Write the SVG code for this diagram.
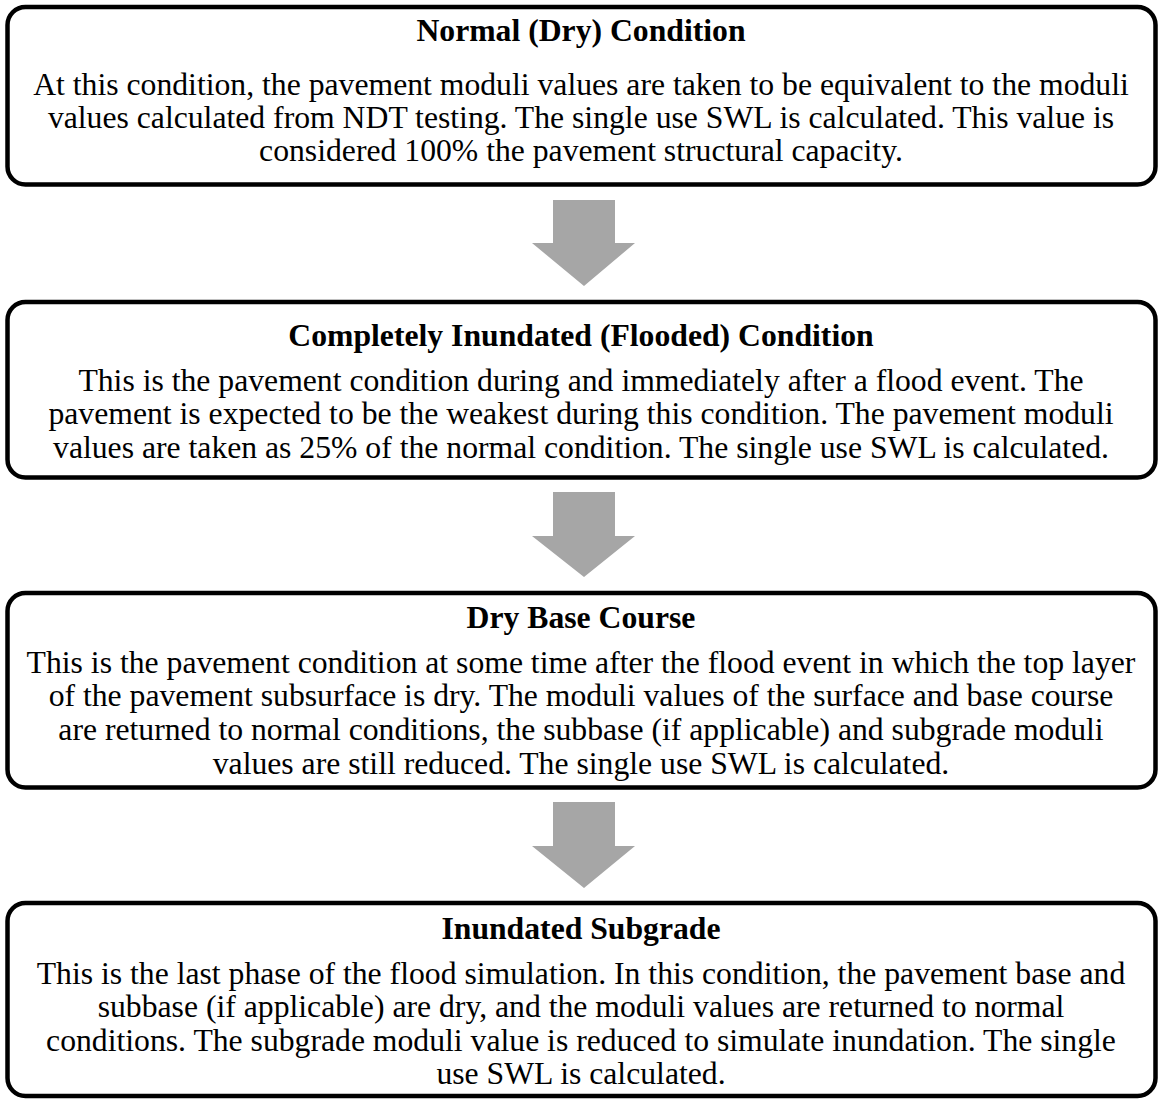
<svg xmlns="http://www.w3.org/2000/svg" width="1159" height="1099" viewBox="0 0 1159 1099">
<style>
.box{fill:#fff;stroke:#000;stroke-width:4.5}
.t{font-family:"Liberation Serif","Times New Roman",serif;font-size:31.7px;fill:#000;text-anchor:middle}
.h{font-weight:bold}
.arr{fill:#a6a6a6}
</style>
<rect width="1159" height="1099" fill="#fff"/>
<g id="connectors">
<polygon class="arr" points="553,200 615,200 615,243 635,243 584,286 532,243 553,243"/>
<polygon class="arr" points="553,492 615,492 615,536 635,536 584,577 532,536 553,536"/>
<polygon class="arr" points="553,802 615,802 615,846 635,846 584,888 532,846 553,846"/>
</g>
<g id="node1">
<rect class="box" x="7.5" y="7" width="1148" height="177.5" rx="18"/>
<text class="t h" x="581" y="41">Normal (Dry) Condition</text>
<text class="t" x="581" y="95">At this condition, the pavement moduli values are taken to be equivalent to the moduli</text>
<text class="t" x="581" y="128">values calculated from NDT testing. The single use SWL is calculated. This value is</text>
<text class="t" x="581" y="161">considered 100% the pavement structural capacity.</text>
</g>
<g id="node2">
<rect class="box" x="7.5" y="302" width="1148" height="175.5" rx="18"/>
<text class="t h" x="581" y="346">Completely Inundated (Flooded) Condition</text>
<text class="t" x="581" y="391">This is the pavement condition during and immediately after a flood event. The</text>
<text class="t" x="581" y="424">pavement is expected to be the weakest during this condition. The pavement moduli</text>
<text class="t" x="581" y="458">values are taken as 25% of the normal condition. The single use SWL is calculated.</text>
</g>
<g id="node3">
<rect class="box" x="7.5" y="593" width="1148" height="194.5" rx="18"/>
<text class="t h" x="581" y="628">Dry Base Course</text>
<text class="t" x="581" y="673">This is the pavement condition at some time after the flood event in which the top layer</text>
<text class="t" x="581" y="706">of the pavement subsurface is dry. The moduli values of the surface and base course</text>
<text class="t" x="581" y="740">are returned to normal conditions, the subbase (if applicable) and subgrade moduli</text>
<text class="t" x="581" y="774">values are still reduced. The single use SWL is calculated.</text>
</g>
<g id="node4">
<rect class="box" x="7.5" y="903" width="1148" height="193" rx="18"/>
<text class="t h" x="581" y="939">Inundated Subgrade</text>
<text class="t" x="581" y="984">This is the last phase of the flood simulation. In this condition, the pavement base and</text>
<text class="t" x="581" y="1017">subbase (if applicable) are dry, and the moduli values are returned to normal</text>
<text class="t" x="581" y="1051">conditions. The subgrade moduli value is reduced to simulate inundation. The single</text>
<text class="t" x="581" y="1084">use SWL is calculated.</text>
</g>
</svg>
